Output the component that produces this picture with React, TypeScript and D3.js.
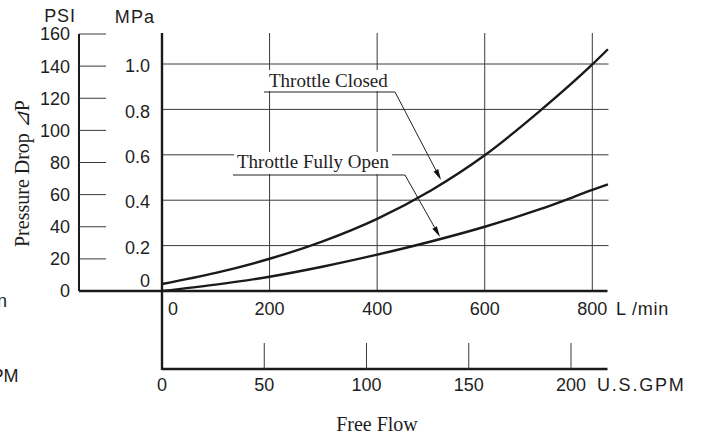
import React from "react";
import * as d3 from "d3";

const flowLmin = [0, 100, 200, 300, 400, 500, 600, 700, 800, 829];
const closedMPa = [0.031, 0.08, 0.142, 0.22, 0.318, 0.443, 0.598, 0.788, 0.998, 1.065];
const openMPa = [0, 0.028, 0.063, 0.108, 0.16, 0.218, 0.283, 0.358, 0.445, 0.47];
const psiTicks = [0, 20, 40, 60, 80, 100, 120, 140, 160];
const mpaTicks = [0.2, 0.4, 0.6, 0.8, 1.0];
const mpaLabels = ["0.2", "0.4", "0.6", "0.8", "1.0"];
const lminTicks = [0, 200, 400, 600, 800];
const gpmTicks = [0, 50, 100, 150, 200];

const SANS = "'Liberation Sans', Arial, sans-serif";
const SERIF = "'Liberation Serif', 'Times New Roman', serif";

export default function App() {
  const x = d3.scaleLinear().domain([0, 800]).range([162, 592.3]);
  const xg = d3.scaleLinear().domain([0, 200]).range([162, 571]);
  const yM = d3.scaleLinear().domain([0, 1]).range([291, 64]);
  const yP = d3.scaleLinear().domain([0, 160]).range([291, 34]);
  const line = d3
    .line<number>()
    .x((_, i) => x(flowLmin[i]))
    .y((d) => yM(d))
    .curve(d3.curveMonotoneX);
  const top = yP(160) - 1;
  const grid = "#3a3a3a";
  const xEnd = 607.5;
  const ink = "#1e1e1e";

  const arrow = (x1: number, y1: number, x2: number, y2: number) => {
    const a = Math.atan2(y2 - y1, x2 - x1);
    const L = 11, W = 2.6;
    const bx = x2 - L * Math.cos(a), by = y2 - L * Math.sin(a);
    const px = -Math.sin(a) * W, py = Math.cos(a) * W;
    return (
      <g>
        <line x1={x1} y1={y1} x2={bx} y2={by} stroke="#222" strokeWidth={1} />
        <path d={`M${x2},${y2}L${bx + px},${by + py}L${bx - px},${by - py}Z`} fill="#111" />
      </g>
    );
  };

  return (
    <svg width={703} height={438} style={{ position: "absolute", left: 0, top: 0, background: "#fff" }}>
      {/* grid horizontal */}
      {mpaTicks.map((t) => (
        <line key={"h" + t} x1={x(0)} x2={xEnd + 1} y1={yM(t)} y2={yM(t)} stroke={grid} strokeWidth={1} />
      ))}
      {/* grid vertical */}
      {lminTicks.slice(1).map((t) => (
        <line key={"v" + t} x1={x(t)} x2={x(t)} y1={top} y2={yM(0)} stroke={grid} strokeWidth={1} />
      ))}
      {/* annotation label boxes */}
      <rect x={265} y={70} width={126} height={21} fill="#fff" />
      <rect x={234} y={152} width={158} height={22} fill="#fff" />
      <text x={269} y={86.5} fontFamily={SERIF} fontSize={19} fill={ink}>Throttle Closed</text>
      <line x1={264} x2={395} y1={92} y2={92} stroke="#222" strokeWidth={1} />
      {arrow(395, 92, 441, 180)}
      <text x={237} y={168} fontFamily={SERIF} fontSize={19} fill={ink}>Throttle Fully Open</text>
      <line x1={233} x2={405} y1={175} y2={175} stroke="#222" strokeWidth={1} />
      {arrow(405, 175, 440, 237)}

      {/* curves */}
      <path d={line(closedMPa) || ""} fill="none" stroke="#1a1a1a" strokeWidth={2.4} />
      <path d={line(openMPa) || ""} fill="none" stroke="#1a1a1a" strokeWidth={2.4} />

      {/* PSI axis */}
      <line x1={79} x2={79} y1={yP(160)} y2={yP(0)} stroke="#1a1a1a" strokeWidth={2} />
      {psiTicks.slice(1).map((t) => (
        <line key={"pt" + t} x1={79} x2={106} y1={yP(t)} y2={yP(t)} stroke={grid} strokeWidth={1} />
      ))}
      {psiTicks.map((t) => (
        <text key={"pl" + t} x={70} y={yP(t)} dy="0.36em" textAnchor="end" fontFamily={SANS} fontSize={18} fill={ink}>{t}</text>
      ))}
      <text x={60} y={22} textAnchor="middle" fontFamily={SANS} fontSize={18} letterSpacing={0.8} fill={ink}>PSI</text>
      <text x={135} y={22.5} textAnchor="middle" fontFamily={SANS} fontSize={18} letterSpacing={1.2} fill={ink}>MPa</text>

      {/* MPa labels */}
      {mpaTicks.map((t, i) => (
        <text key={"ml" + t} x={150} y={yM(t)} dy="0.45em" textAnchor="end" fontFamily={SANS} fontSize={18} fill={ink}>{mpaLabels[i]}</text>
      ))}
      <text x={150} y={yM(0) - 10} dy="0.36em" textAnchor="end" fontFamily={SANS} fontSize={18} fill={ink}>0</text>

      {/* y title */}
      <text transform="translate(29,173.5) rotate(-90)" textAnchor="middle" fontFamily={SERIF} fontSize={20} fill={ink}>
        Pressure Drop <tspan fontStyle="italic">⊿</tspan>P
      </text>

      {/* zero line */}
      <line x1={79} x2={xEnd} y1={yM(0)} y2={yM(0)} stroke="#1a1a1a" strokeWidth={2.4} />
      {/* MPa main axis */}
      <line x1={162} x2={162} y1={top} y2={370} stroke="#1a1a1a" strokeWidth={2.4} />

      {/* L/min labels */}
      {lminTicks.map((t) => (
        <text key={"xl" + t} x={t === 0 ? x(t) + 11 : x(t)} y={309} dy="0.36em" textAnchor="middle" fontFamily={SANS} fontSize={18} fill={ink}>{t}</text>
      ))}
      <text x={616} y={309} dy="0.36em" fontFamily={SANS} fontSize={18} letterSpacing={0.8} fill={ink}>L /min</text>

      {/* GPM axis */}
      <line x1={162} x2={xEnd} y1={369} y2={369} stroke="#1a1a1a" strokeWidth={2.4} />
      {gpmTicks.slice(1).map((t) => (
        <line key={"gt" + t} x1={xg(t)} x2={xg(t)} y1={343} y2={369} stroke={grid} strokeWidth={1} />
      ))}
      {gpmTicks.map((t) => (
        <text key={"gl" + t} x={xg(t)} y={385} dy="0.36em" textAnchor="middle" fontFamily={SANS} fontSize={18} fill={ink}>{t}</text>
      ))}
      <text x={597} y={385} dy="0.36em" fontFamily={SANS} fontSize={18} letterSpacing={1.8} fill={ink}>U.S.GPM</text>

      <text x={377} y={431} textAnchor="middle" fontFamily={SERIF} fontSize={20} fill={ink}>Free Flow</text>

      {/* cut-off fragments at left edge */}
      <text x={7} y={307} textAnchor="end" fontFamily={SANS} fontSize={18} fill={ink}>L /min</text>
      <text x={18.5} y={382} textAnchor="end" fontFamily={SANS} fontSize={18} fill={ink}>U.S.GPM</text>
    </svg>
  );
}
